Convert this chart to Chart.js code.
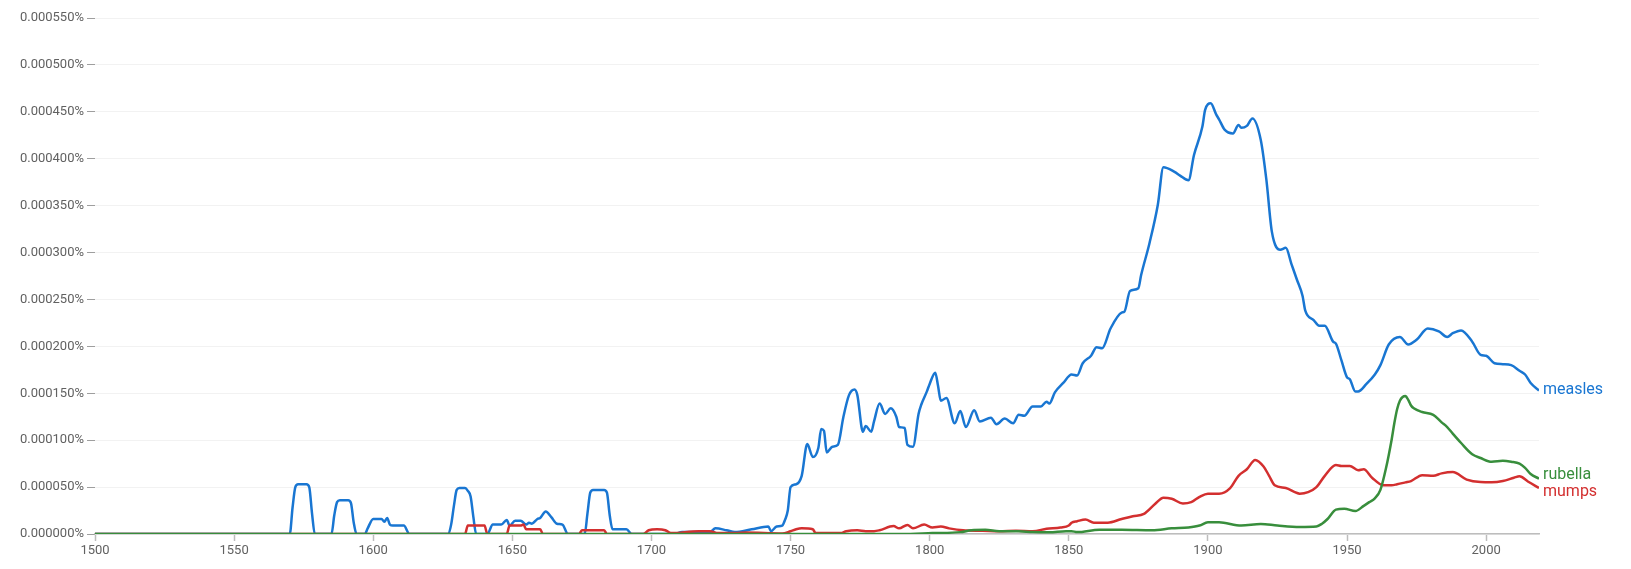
<!DOCTYPE html>
<html>
<head>
<meta charset="utf-8">
<title>measles, rubella, mumps</title>
<script src="https://cdn.jsdelivr.net/npm/chart.js@4.4.0/dist/chart.umd.min.js"></script>
<style>
    html, body { margin: 0; padding: 0; background: #fff; }
    #ngramChart { display: block; }
</style>
</head>
<body>
<canvas id="ngramChart" width="1631" height="569"></canvas>
<script>
// values are in millionths of a percent (50 -> 0.000050%)
const measlesYears = [1500,1569,1570,1571,1572,1573,1576,1577,1578,1579,
    1585,1586,1587,1588,1591,1592,1593,1594,
    1597,1598,1600,1603,1604,1605,1606,1607,1611,1613,
    1627,1628,1629,1630,1631,1633,1634,1635,1636,1637,
    1641,1643,1646,1648,1649,1651,1653,1655,1656,1657,1659,1660,1662,1664,1666,1668,1670,
    1676,1677,1678,1679,1683,1684,1685,1686,1691,1693,
    1708,1711,1721,1723,1727,1730,1736,1742,1743,1745,1747,1748,1749,1750,1752,1754,1756,
    1758,1760,1761,1762,1763,1765,1767,1769,1771,1773,1774,1776,1777,1779,1780,1782,1784,1786,1788,1789,1791,1792,1794,
    1796,1797,1799,1800,1802,1803,1804,1806,1809,1811,1813,1816,1818,1822,1824,1827,1830,1832,1834,1837,1840,1842,1843,
    1845,1848,1851,1853,1855,1858,1860,1862,1865,1869,1870,1872,1875,1876,1879,1882,1884,1888,1890,1893,1895,1898,1899,
    1901,1903,1904,1906,1909,1911,1912,1914,1916,1919,1921,1923,1926,1928,1930,1932,1934,1935,1938,1940,1942,1945,1946,
    1948,1950,1951,1953,1954,1957,1960,1962,1965,1969,1972,1975,1979,1983,1986,1988,1991,1995,1998,2000,2003,2006,2009,
    2012,2014,2016,2019];
const measles = [0,0,0,28,50,53,53,50,22,0,
    0,20,34,36,36,33,12,0,
    0,6,16,16,13,17,10,9,9,0,
    0,10,30,47,49,49,46,40,18,0,
    0,10,10,15,9,14,14,10,12,11,16,17,24,18,11,10,0,
    0,22,44,47,47,44,20,5,5,0,
    0,2,2,6,4,2,5,8,3,8,9,15,25,50,53,62,96,
    82,92,112,110,87,93,95,125,148,154,148,109,115,109,120,139,128,134,125,114,113,95,93,
    128,138,152,160,172,158,142,145,118,131,114,132,120,124,117,123,118,127,126,136,136,141,139,
    151,161,170,169,182,190,199,198,219,236,237,259,262,276,310,351,391,386,382,377,404,434,452,
    459,447,442,431,427,436,433,435,443,420,378,322,303,305,288,271,254,238,228,222,222,205,203,
    185,167,165,152,152,160,170,180,202,210,202,207,219,216,210,214,217,205,191,190,182,181,180,
    174,170,161,153];

const mumpsYears = [1500,1633,1634,1640,1641,1648,1649,1653,1654,1655,1660,1661,1674,1675,1683,1684,1697,1699,1702,1705,
    1707,1717,1721,1724,1730,1734,1747,1750,1752,1754,1758,1759,1768,1770,1774,1777,1780,1782,1787,1789,1792,1794,1798,
    1801,1804,1807,1812,1819,1825,1831,1837,1842,1847,1850,1851,1853,1856,1859,1864,1869,1873,1877,1881,1884,1887,1891,
    1894,1897,1900,1904,1908,1911,1914,1917,1920,1922,1924,1928,1933,1936,1939,1942,1946,1948,1951,1954,1956,1959,1963,
    1966,1968,1971,1973,1977,1981,1984,1988,1993,1998,2002,2006,2010,2012,2015,2019];
const mumps = [0,0,9,9,0,0,9,9,10,5,5,0,0,4,4,0,0,4,5,4,
    1,3,3,1,1,1.5,0.5,3,5,6,5,1,1,3,4,3,3,4,8.5,6,9.6,6,10,
    7,8,6,4,3.5,3,3.5,3,5.5,7,9,12,13.6,15.4,12,12,16,19,21.4,32,38.6,37.5,32.5,
    34,39.6,43,43,49,62,69,79,72,62,52,49,43,44.6,50,62,73.5,72.5,72.5,68,69,60,52,
    52,53,55,56.4,62.7,62,64.6,66,58,55.4,55.2,56.5,60,61.5,56,49];

const rubellaYears = [1500,1790,1801,1811,1815,1820,1825,1832,1837,1843,1849,1851,1853,1861,1869,1880,1887,1893,1897,1900,
    1904,1912,1919,1925,1933,1939,1941,1943,1946,1949,1953,1956,1958,1960,1962,1964,1966,1967,1968,1969,1970,1971,1972,
    1973,1974,1977,1981,1984,1986,1988,1991,1995,1998,2002,2006,2009,2012,2014,2016,2019];
const rubella = [0,0,1,2,4,4.5,3,3,2,1.8,3,3,2,4.6,4.6,4,6,7,9,12.5,
    12.5,9,10.7,9,7.5,8,11,16,26,27,24.5,30,34,38,47,70,100,118,133,142,146,147,143,
    137,134,130,127,119,114,107,97,85,81,77,78,77,75,70.5,64,59];

const xTicks = [1500, 1550, 1600, 1650, 1700, 1750, 1800, 1850, 1900, 1950, 2000];

const seriesNames = ['measles', 'rubella', 'mumps'];
const seriesColors = ['#1976d2', '#388e3c', '#d32f2f'];

function toPoints(years, values) {
    return years.map((yr, i) => ({ x: yr, y: values[i] }));
}

// word labels at the right end of each line, pushed apart when they collide
const endLabels = {
    id: 'endLabels',
    afterDatasetsDraw(chart) {
        const ctx = chart.ctx;
        const area = chart.chartArea;
        const gap = 17;
        let items = chart.data.datasets.map((ds, i) => {
            const pts = chart.getDatasetMeta(i).data;
            return { text: ds.label, color: ds.borderColor, y: pts[pts.length - 1].y };
        });
        items.sort((a, b) => a.y - b.y);
        for (let pass = 0; pass < 10; pass++) {
            let moved = false;
            for (let i = 1; i < items.length; i++) {
                const d = items[i].y - items[i - 1].y;
                if (d < gap) {
                    const mid = (items[i].y + items[i - 1].y) / 2;
                    items[i - 1].y = mid - gap / 2;
                    items[i].y = mid + gap / 2;
                    moved = true;
                }
            }
            if (!moved) break;
        }
        ctx.save();
        ctx.font = '16px Roboto';
        ctx.textAlign = 'left';
        ctx.textBaseline = 'middle';
        items.forEach(it => {
            ctx.fillStyle = it.color;
            ctx.fillText(it.text, area.right + 4, it.y);
        });
        ctx.restore();
    }
};

function initializeChart() {
    const ctx = document.getElementById('ngramChart').getContext('2d');
    const series = [measles, rubella, mumps];
    const years = [measlesYears, rubellaYears, mumpsYears];
    const drawOrder = [2, 0, 1];

    new Chart(ctx, {
        type: 'line',
        data: {
            datasets: seriesNames.map((name, i) => ({
                label: name,
                data: toPoints(years[i], series[i]),
                borderColor: seriesColors[i],
                backgroundColor: seriesColors[i],
                borderWidth: 2.5,
                pointRadius: 0,
                cubicInterpolationMode: 'monotone',
                order: drawOrder[i]
            }))
        },
        options: {
            responsive: false,
            devicePixelRatio: 1,
            animation: false,
            layout: { padding: { top: 18, right: 92, bottom: 0, left: 0 } },
            plugins: {
                legend: { display: false },
                tooltip: { enabled: false }
            },
            scales: {
                x: {
                    type: 'linear',
                    min: 1500,
                    max: 2019,
                    afterBuildTicks: scale => {
                        scale.ticks = xTicks.map(v => ({ value: v }));
                    },
                    afterFit: scale => { scale.height = 35; },
                    border: { color: '#bdbdbd', width: 1.5 },
                    grid: { drawOnChartArea: false, tickLength: 7, tickColor: '#bdbdbd', tickWidth: 1.5 },
                    ticks: {
                        padding: 2,
                        maxRotation: 0,
                        color: '#616161',
                        font: { family: 'Roboto', size: 13 },
                        callback: v => String(v)
                    }
                },
                y: {
                    min: 0,
                    max: 550,
                    afterFit: scale => { scale.width = 95; },
                    border: { display: false },
                    grid: { color: '#f2f2f2', lineWidth: 1, tickLength: 8, tickColor: '#9e9e9e' },
                    ticks: {
                        stepSize: 50,
                        padding: 3,
                        color: '#616161',
                        font: { family: 'Roboto', size: 13 },
                        callback: v => (v / 1e6).toFixed(6) + '%'
                    }
                }
            }
        },
        plugins: [endLabels]
    });
}

document.addEventListener('DOMContentLoaded', initializeChart);
</script>
</body>
</html>
